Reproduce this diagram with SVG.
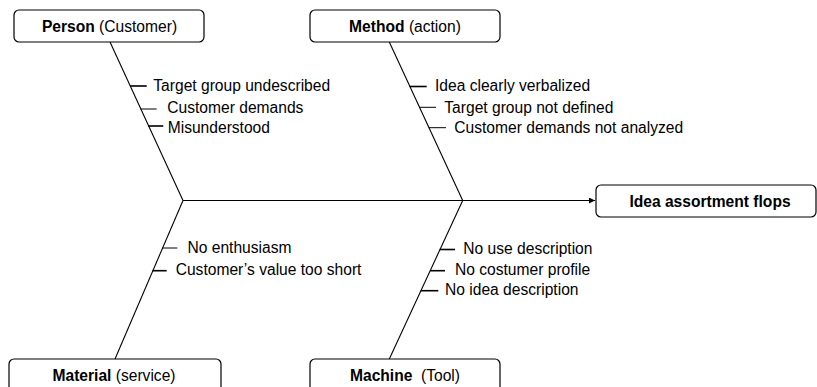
<svg xmlns="http://www.w3.org/2000/svg" width="817" height="387" viewBox="0 0 817 387">
<defs>
<style>
.box{fill:#fff;stroke:#000;stroke-width:1.2}
.t{font-family:"Liberation Sans",Arial,sans-serif;font-size:15.6px;fill:#000}
.c{text-anchor:middle}
.b{font-weight:bold}
.ln{stroke:#000;stroke-width:1.1;fill:none}
.tk{stroke:#000;stroke-width:1.6}
.tk1{stroke:#000;stroke-width:1}
</style>
<marker id="ah" markerWidth="8" markerHeight="8" refX="6" refY="3" orient="auto" markerUnits="userSpaceOnUse">
<path d="M0,0 L6,3 L0,6 Z" fill="#000"/>
</marker>
</defs>
<g id="connectors">
<line class="ln" x1="183" y1="200.5" x2="595" y2="200.5" marker-end="url(#ah)"/>
<line class="ln" x1="110" y1="42" x2="183" y2="200.5"/>
<line class="ln" x1="389.3" y1="42" x2="462.7" y2="200.5"/>
<line class="ln" x1="183" y1="200.5" x2="115" y2="359"/>
<line class="ln" x1="462.7" y1="200.5" x2="389.3" y2="359"/>
<line class="tk" x1="130" y1="86" x2="146.7" y2="86"/>
<line class="tk1" x1="140.5" y1="109" x2="156.7" y2="109"/>
<line class="tk" x1="148" y1="126" x2="163.3" y2="126"/>
<line class="tk" x1="409.7" y1="86.5" x2="426.7" y2="86.5"/>
<line class="tk1" x1="419.3" y1="107.3" x2="436" y2="107.3"/>
<line class="tk1" x1="428.8" y1="127.7" x2="446" y2="127.7"/>
<line class="tk1" x1="162.4" y1="248" x2="177.3" y2="248"/>
<line class="tk" x1="152.5" y1="270.7" x2="166.7" y2="270.7"/>
<line class="tk" x1="439.7" y1="249.5" x2="455" y2="249.5"/>
<line class="tk" x1="430.2" y1="270.7" x2="445" y2="270.7"/>
<line class="tk" x1="420.8" y1="290.7" x2="438.3" y2="290.7"/>
</g>
<g id="person">
<rect class="box" x="14" y="10" width="190" height="32" rx="5"/>
<text class="t c" x="109.5" y="32"><tspan class="b">Person</tspan> (Customer)</text>
</g>
<g id="method">
<rect class="box" x="310" y="10" width="190" height="32" rx="5"/>
<text class="t c" x="405" y="32"><tspan class="b">Method</tspan> (action)</text>
</g>
<g id="effect">
<rect class="box" x="596" y="185" width="220" height="32" rx="5"/>
<text class="t c b" x="710" y="207">Idea assortment flops</text>
</g>
<g id="material">
<rect class="box" x="9" y="359" width="212" height="40" rx="5"/>
<text class="t c" x="114" y="381"><tspan class="b">Material</tspan> (service)</text>
</g>
<g id="machine">
<rect class="box" x="310" y="359" width="190" height="40" rx="5"/>
<text class="t c" x="405" y="381" xml:space="preserve"><tspan class="b">Machine</tspan>  (Tool)</text>
</g>
<g id="causes">
<text class="t" x="153.3" y="91">Target group undescribed</text>
<text class="t" x="167.3" y="112.7">Customer demands</text>
<text class="t" x="167.7" y="132.5">Misunderstood</text>
<text class="t" x="435" y="91">Idea clearly verbalized</text>
<text class="t" x="444.3" y="112.7">Target group not defined</text>
<text class="t" x="454.3" y="133.3">Customer demands not analyzed</text>
<text class="t" x="187.5" y="253.3">No enthusiasm</text>
<text class="t" x="175.7" y="274.5">Customer’s value too short</text>
<text class="t" x="463.3" y="254">No use description</text>
<text class="t" x="455" y="275">No costumer profile</text>
<text class="t" x="445" y="295">No idea description</text>
</g>
</svg>
